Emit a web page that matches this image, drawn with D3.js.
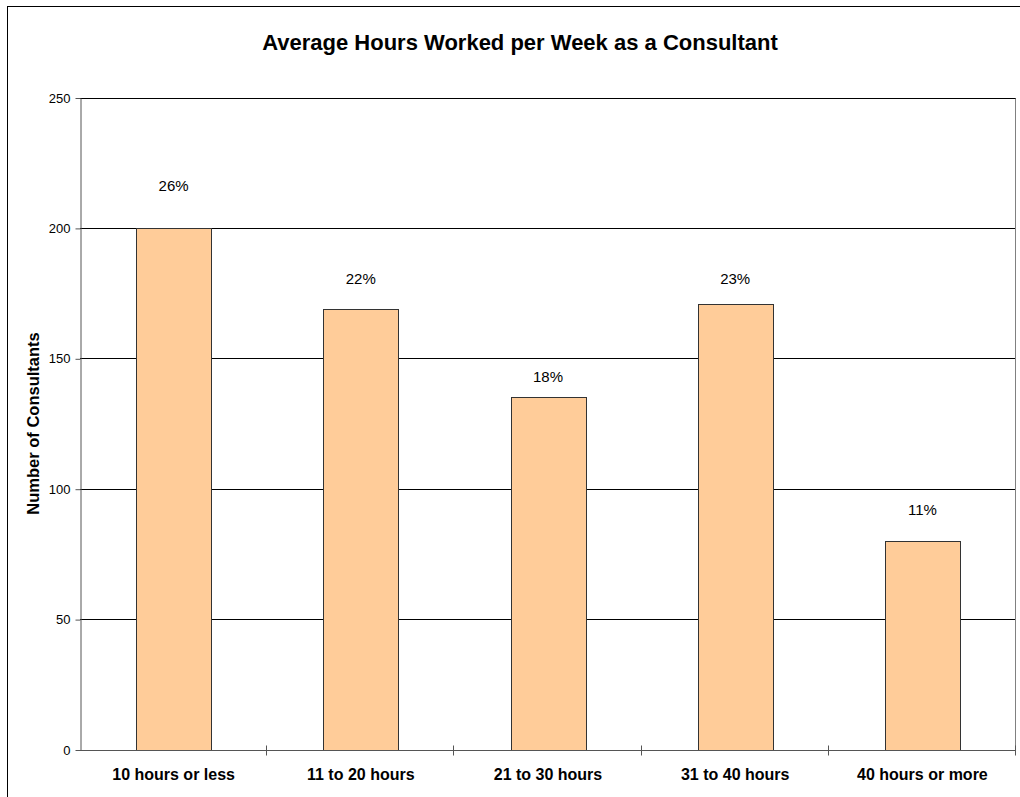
<!DOCTYPE html>
<html>
<head>
<meta charset="utf-8">
<script src="https://cdn.jsdelivr.net/npm/d3@7"></script>
<style>
  html, body { margin: 0; padding: 0; background: #fff; }
  svg { display: block; font-family: "Liberation Sans", Arial, sans-serif; }
</style>
</head>
<body>
<svg id="chart" width="1020" height="797"></svg>
<script>
// Survey results: weekly hours worked by consultants
const categories = ["10 hours or less", "11 to 20 hours", "21 to 30 hours", "31 to 40 hours", "40 hours or more"];
const consultants = [200, 169, 135, 171, 80];
const shareLabels = ["26%", "22%", "18%", "23%", "11%"];
// vertical anchor (in axis units) for each share label
const shareLabelAt = [216, 180.5, 143, 180.5, 92];
const yTicks = [0, 50, 100, 150, 200, 250];

const svg = d3.select("#chart");
const W = 1020, H = 797;
const plot = { left: 80, right: 1016, top: 97.5, bottom: 749.5 };

// outer chart frame
svg.append("rect")
  .attr("x", 7.5).attr("y", 6.5)
  .attr("width", W + 20).attr("height", H + 20)
  .attr("fill", "#fff").attr("stroke", "#000").attr("stroke-width", 1);

const x = d3.scaleBand().domain(categories).range([plot.left, plot.right]).paddingInner(0.6).paddingOuter(0.3);
const xBand = d3.scaleBand().domain(categories).range([plot.left, plot.right]);
const y = d3.scaleLinear().domain([0, 250]).range([plot.bottom, plot.top]);

// horizontal gridlines
svg.append("g").selectAll("line")
  .data(yTicks.filter(d => d > 0))
  .join("line")
  .attr("x1", plot.left).attr("x2", plot.right)
  .attr("y1", d => Math.round(y(d)) + 0.5).attr("y2", d => Math.round(y(d)) + 0.5)
  .attr("stroke", "#000").attr("stroke-width", 1);

// right edge of plot area
svg.append("line")
  .attr("x1", plot.right - 0.5).attr("x2", plot.right - 0.5)
  .attr("y1", Math.round(y(250)) + 0.5).attr("y2", plot.bottom)
  .attr("stroke", "#808080");

// bars
svg.append("g").selectAll("rect")
  .data(consultants)
  .join("rect")
  .attr("x", (d, i) => Math.round(x(categories[i])) + 0.5)
  .attr("y", d => Math.round(y(d)) + 0.5)
  .attr("width", Math.round(x.bandwidth()))
  .attr("height", d => Math.round(y(0)) - Math.round(y(d)))
  .attr("fill", "#FFCC99")
  .attr("stroke", "#333")
  .attr("stroke-width", 1);

// y axis
const yAxis = d3.axisLeft(y).tickValues(yTicks).tickSizeInner(5).tickSizeOuter(0).tickPadding(5);
const gy = svg.append("g").attr("transform", `translate(${plot.left + 0.5},0.5)`).call(yAxis);
gy.select(".domain").attr("stroke", "#555");
gy.selectAll(".tick line").attr("stroke", "#555");
gy.selectAll(".tick text")
  .attr("font-family", "Liberation Sans, Arial, sans-serif")
  .attr("font-size", 13).attr("fill", "#000");

// x axis line and crossing tick marks at category boundaries
svg.append("line")
  .attr("x1", plot.left).attr("x2", plot.right)
  .attr("y1", Math.round(plot.bottom) + 0.5).attr("y2", Math.round(plot.bottom) + 0.5)
  .attr("stroke", "#555");
const bounds = categories.map(c => xBand(c)).concat([plot.right]);
svg.append("g").selectAll("line")
  .data(bounds.slice(1))
  .join("line")
  .attr("x1", d => Math.round(d) - 0.5).attr("x2", d => Math.round(d) - 0.5)
  .attr("y1", plot.bottom - 4).attr("y2", plot.bottom + 6)
  .attr("stroke", "#555");

// category labels
svg.append("g").selectAll("text")
  .data(categories)
  .join("text")
  .attr("x", d => xBand(d) + xBand.bandwidth() / 2)
  .attr("y", 780)
  .attr("text-anchor", "middle")
  .attr("font-size", 16).attr("font-weight", "bold")
  .text(d => d);

// share labels above bars
svg.append("g").selectAll("text")
  .data(shareLabels)
  .join("text")
  .attr("x", (d, i) => xBand(categories[i]) + xBand.bandwidth() / 2)
  .attr("y", (d, i) => y(shareLabelAt[i]))
  .attr("dy", "0.35em")
  .attr("text-anchor", "middle")
  .attr("font-size", 15)
  .text(d => d);

// title
svg.append("text")
  .attr("x", 520).attr("y", 50)
  .attr("text-anchor", "middle")
  .attr("font-size", 22).attr("font-weight", "bold")
  .text("Average Hours Worked per Week as a Consultant");

// y axis title
svg.append("text")
  .attr("transform", `translate(38.5,${(plot.top + plot.bottom) / 2}) rotate(-90)`)
  .attr("text-anchor", "middle")
  .attr("font-size", 16.5).attr("font-weight", "bold")
  .text("Number of Consultants");
</script>
</body>
</html>
